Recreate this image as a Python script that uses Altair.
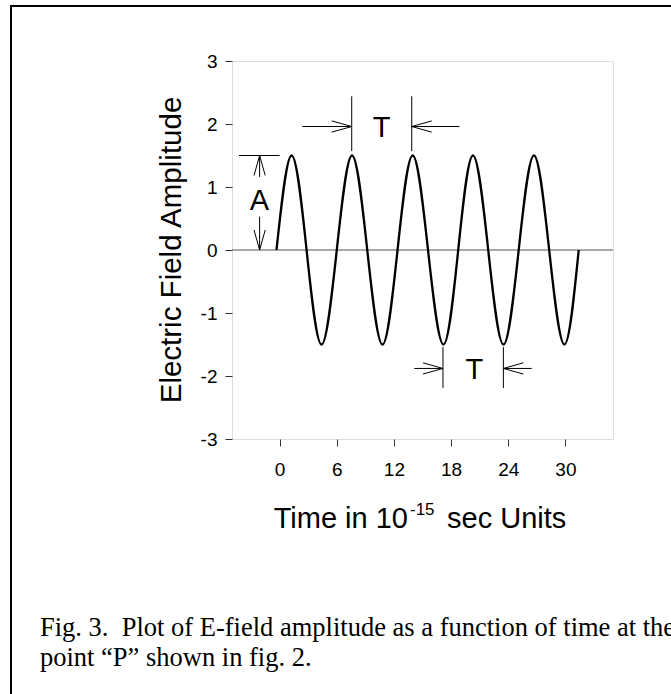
import altair as alt
import pandas as pd

# ---- data ----
t_vals = [-0.33, 1.26, 2.83, 4.4, 6.0, 7.6, 9.2, 10.8, 12.38, 13.97, 15.58,
          17.2, 18.75, 20.3, 21.9, 23.5, 25.1, 26.7, 28.3, 29.9, 31.4]
e_vals = [0, 1.5, 0, -1.5, 0, 1.5, 0, -1.5, 0, 1.5, 0,
          -1.5, 0, 1.5, 0, -1.5, 0, 1.5, 0, -1.5, 0]

x_ticks = [0, 6, 12, 18, 24, 30]
y_ticks = [-3, -2, -1, 0, 1, 2, 3]

# annotation segments (data units)
seg_x = [-4.26, -2.1, -2.1, 7.57, 13.87, 2.38, 13.87, 17.15, 23.49, 14.14, 23.49]
seg_x2 = [0.0, -2.1, -2.1, 7.57, 13.87, 7.57, 18.87, 17.15, 23.49, 17.15, 26.47]
seg_y = [1.5, 1.16, 0.0, 1.57, 1.57, 1.96, 1.96, -2.19, -2.19, -1.88, -1.88]
seg_y2 = [1.5, 1.5, 0.53, 2.44, 2.44, 1.96, 1.96, -1.54, -1.54, -1.88, -1.88]

head_x = [-2.1, -2.1, 7.57, 13.87, 17.15, 23.49]
head_y = [1.5, 0.0, 1.96, 1.96, -1.88, -1.88]
head_dir = ["up", "down", "right", "left", "right", "left"]

lab_text = ["A", "T", "T"]
lab_x = [-2.13, 10.72, 20.44]
lab_y = [0.77, 1.94, -1.9]

# ---- styles ----
SANS = "Liberation Sans"
SERIF = "Liberation Serif"
paths = {
    "right": "M -1 -0.28 L 0 0 L -1 0.28",
    "left": "M 1 -0.28 L 0 0 L 1 0.28",
    "up": "M -0.28 1 L 0 0 L 0.28 1",
    "down": "M -0.28 -1 L 0 0 L 0.28 -1",
}

xscale = alt.Scale(domain=[-5, 35], nice=False, zero=False)
yscale = alt.Scale(domain=[-3, 3], nice=False, zero=False)
xaxis = alt.Axis(values=x_ticks, title=None, grid=False, domain=False,
                 tickSize=7, tickColor="#333", labelPadding=14,
                 labelExpr="'' + datum.value",
                 labelFont=SANS, labelFontSize=19, labelColor="black")
yaxis = alt.Axis(values=y_ticks, title=None, grid=False, domain=False,
                 tickSize=7, tickColor="#333", labelPadding=8,
                 labelExpr="'' + datum.value",
                 labelFont=SANS, labelFontSize=19, labelColor="black")


def X(f):
    return alt.X(f, type="quantitative", scale=xscale, axis=xaxis)


def Y(f):
    return alt.Y(f, type="quantitative", scale=yscale, axis=yaxis)


wave_df = pd.DataFrame({"t": t_vals, "e": e_vals})
seg_df = pd.DataFrame({"x": seg_x, "x2": seg_x2, "y": seg_y, "y2": seg_y2})
head_df = pd.DataFrame({"x": head_x, "y": head_y,
                        "path": [paths[d] for d in head_dir]})
lab_df = pd.DataFrame({"txt": lab_text, "x": lab_x, "y": lab_y})
zero_df = pd.DataFrame({"y": [0]})

zero_line = alt.Chart(zero_df).mark_rule(color="#555", strokeWidth=1).encode(
    y=Y("y"))

wave = alt.Chart(wave_df).mark_line(
    color="black", strokeWidth=2.3, interpolate="natural").encode(
    x=X("t"), y=Y("e"))

segs = alt.Chart(seg_df).mark_rule(color="black", strokeWidth=1).encode(
    x=X("x"), x2="x2", y=Y("y"), y2="y2")

heads = alt.Chart(head_df).mark_point(
    filled=False, stroke="black", strokeWidth=1, size=1600, opacity=1).encode(
    x=X("x"), y=Y("y"), shape=alt.Shape("path:N", scale=None, legend=None))

labels = alt.Chart(lab_df).mark_text(
    font=SANS, fontSize=29, color="black", align="center", baseline="middle").encode(
    x=X("x"), y=Y("y"), text="txt:N")

# ---- titles, caption and outer frame (pixel positions relative to plot origin) ----
def txt(s, x, y, size, font=SANS, align="left", angle=0):
    return alt.Chart(pd.DataFrame({"s": [s]})).mark_text(
        font=font, fontSize=size, color="black", align=align,
        baseline="alphabetic", angle=angle).encode(
        x=alt.value(x), y=alt.value(y), text="s:N")


xt1 = txt("Time in 10", 176, 467, 29, align="right")
xt2 = txt("-15", 178, 454, 17)
xt3 = txt("sec Units", 215, 467, 29)
yt = txt("Electric Field Amplitude", -51, 189, 29.5, align="center", angle=270)
cap1 = txt("Fig. 3.\u00a0 Plot of E-field amplitude as a function of time at the",
           -192, 575, 26.5, font=SERIF)
cap2 = txt("point \u201cP\u201d shown in fig. 2.", -192, 605, 26.5, font=SERIF)

frame_df = pd.DataFrame({"k": [0]})
frame_top = alt.Chart(frame_df).mark_rule(color="black", strokeWidth=2).encode(
    x=alt.value(-221), x2=alt.value(460), y=alt.value(-55))
frame_left = alt.Chart(frame_df).mark_rule(color="black", strokeWidth=2).encode(
    x=alt.value(-221), y=alt.value(-56), y2=alt.value(660))

chart = alt.layer(
    zero_line, wave, segs, heads, labels,
    xt1, xt2, xt3, yt, cap1, cap2, frame_top, frame_left
).properties(
    width=381, height=378,
    autosize=alt.AutoSizeParams(type="none"),
    padding={"left": 232, "top": 61, "right": 58, "bottom": 255},
).configure_view(
    stroke="#444", strokeWidth=1.5
).configure(background="white")

chart.save("out.html", embed_options={"renderer": "svg", "actions": False})
